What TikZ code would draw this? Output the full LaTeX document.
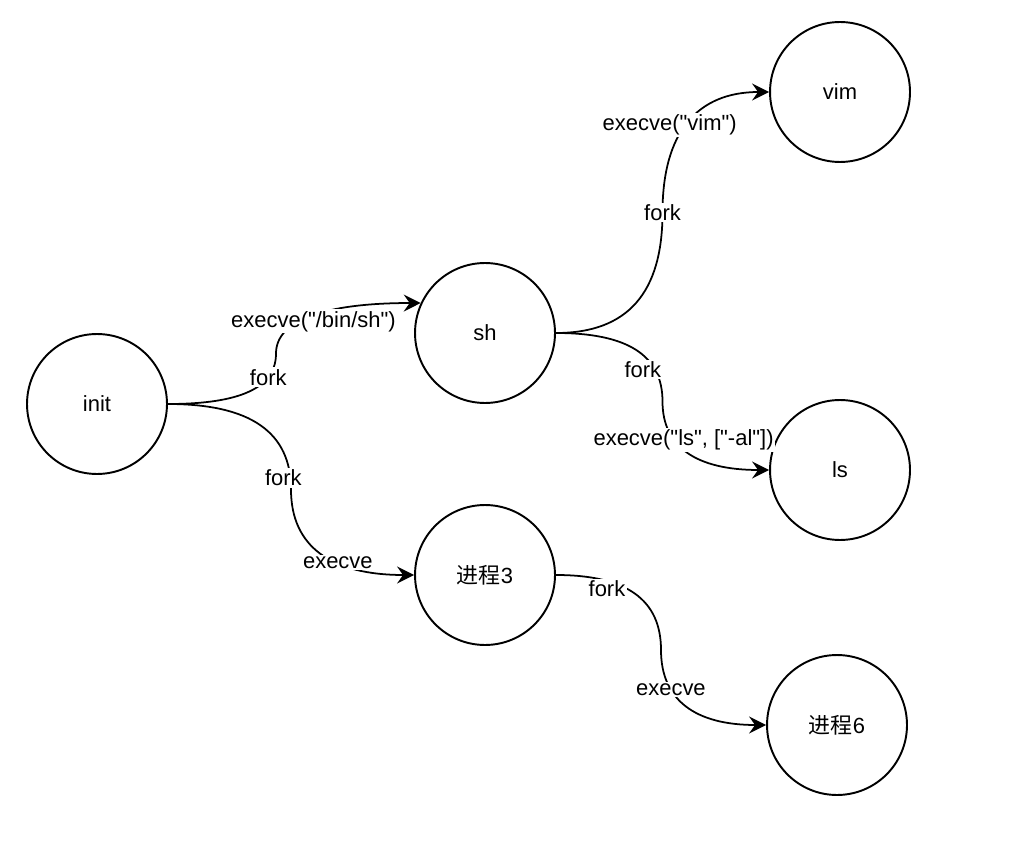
\documentclass[tikz,border=0pt]{standalone}
\usepackage{fontspec}
\setmainfont{Liberation Sans}[Ligatures=TeXOff]
\newfontfamily\cjk{Noto Sans CJK SC}
\usetikzlibrary{arrows.meta,positioning}
\tikzset{
  % one process drawn as a plain circle
  proc/.style = {circle, draw, line width=1.1pt, minimum size=2.8cm, inner sep=0pt,
                 font=\fontsize{12.5}{15}\selectfont},
  lane/.style = {-{Stealth[length=3.4mm,width=3.4mm,inset=1.2mm]}, line width=1pt},
  lbl/.style  = {fill=white, inner sep=1pt, font=\fontsize{12.5}{15}\selectfont},
}
\begin{document}
\begin{tikzpicture}[x=0.02cm, y=0.02cm]
\useasboundingbox (0,0) rectangle (1016,846);
\node[proc] (init) at (97,442)  {init};
\node[proc] (sh)   at (485,513) {sh};
\node[proc] (vim)  at (840,754) {vim};
\node[proc] (ls)   at (840,376) {ls};
\node[proc] (p3)   at (485,271) {{\cjk 进程}3};
\node[proc] (p6)   at (837,121) {{\cjk 进程}6};
% bend points of the curved lanes
\coordinate (b1) at (276,492.5);
\coordinate (b2) at (291,356.5);
\coordinate (b3) at (662.5,633.5);
\coordinate (b4) at (662.5,444.5);
\coordinate (b5) at (661,196);
\draw[lane] (init.east) .. controls +(73,0) and +(0,-34) .. node[lbl,pos=0.73]{fork} (b1)
                        .. controls +(0,33) and +(-97,0) .. node[lbl,pos=0.51,yshift=-0.12cm]{execve("/bin/sh")} (sh.155);
\draw[lane] (init.east) .. controls +(83,0) and +(0,57) .. node[lbl,pos=0.93,xshift=-0.14cm]{fork} (b2)
                        .. controls +(0,-57) and +(-83,0) .. node[lbl,pos=0.62]{execve} (p3.west);
\draw[lane] (sh.east) .. controls +(72,0) and +(0,-80) .. node[lbl,pos=1]{fork} (b3)
                      .. controls +(0,80) and +(-72,0) .. node[lbl,pos=0.48,xshift=-0.34cm]{execve("vim")} (vim.west);
\draw[lane] (sh.east) .. controls +(72,0) and +(0,46) .. node[lbl,pos=0.73,xshift=-0.24cm]{fork} (b4)
                      .. controls +(0,-46) and +(-72,0) .. node[lbl,pos=0.34,xshift=0.18cm]{execve("ls", ["-al"])} (ls.west);
\draw[lane] (p3.east) .. controls +(71,0) and +(0,50) .. node[lbl,pos=0.28,yshift=-0.15cm]{fork} (b5)
                      .. controls +(0,-50) and +(-71,0) .. node[lbl,pos=0.31]{execve} (p6.west);
\end{tikzpicture}
\end{document}
